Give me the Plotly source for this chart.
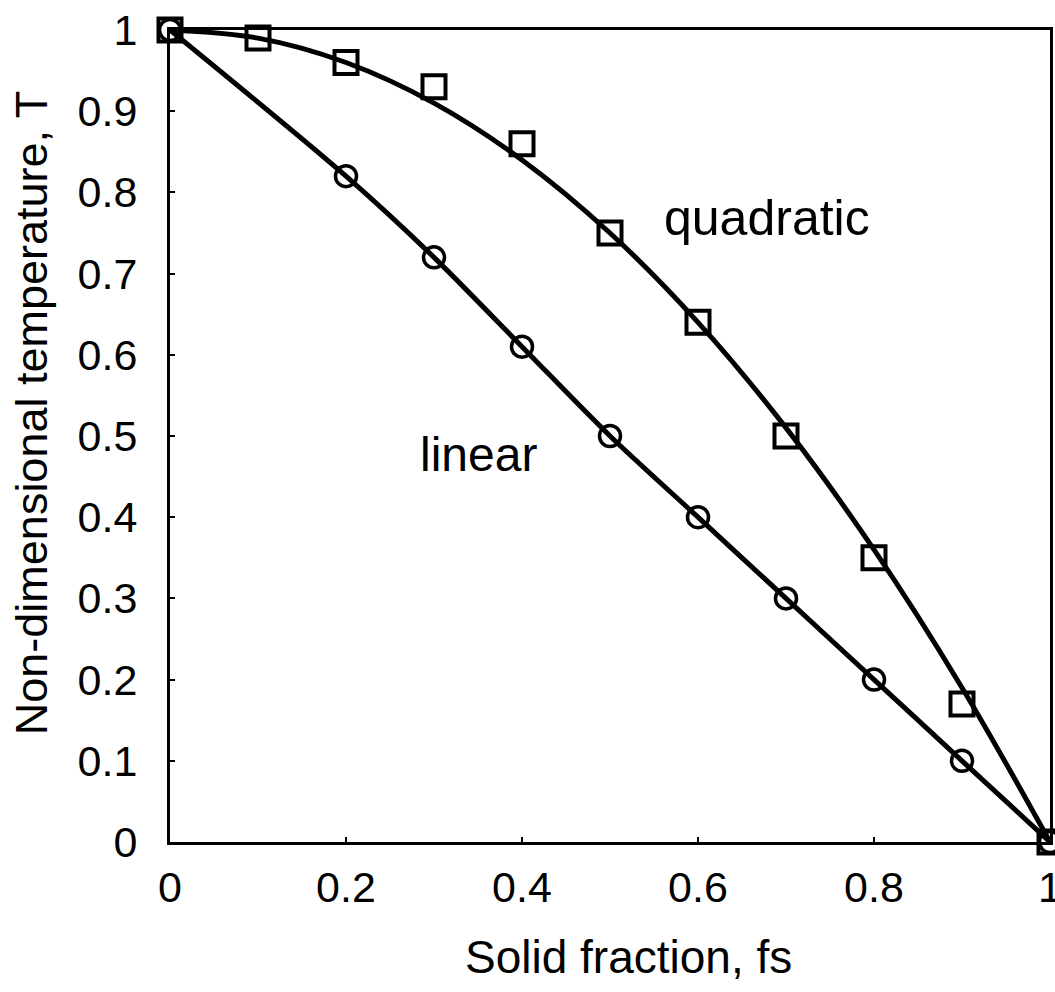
import plotly.graph_objects as go

# Data
# quadratic: marker values and the smooth curve drawn through them
fs_quad = [0, 0.1, 0.2, 0.3, 0.4, 0.5, 0.6, 0.7, 0.8, 0.9, 1.0]
T_quad = [1.0, 0.99, 0.96, 0.93, 0.86, 0.75, 0.64, 0.50, 0.35, 0.17, 0.0]
T_quad_curve = [1.0, 0.99, 0.96, 0.91, 0.84, 0.75, 0.64, 0.51, 0.36, 0.19, 0.0]

# linear
fs_lin = [0, 0.2, 0.3, 0.4, 0.5, 0.6, 0.7, 0.8, 0.9, 1.0]
T_lin = [1.0, 0.82, 0.72, 0.61, 0.50, 0.40, 0.30, 0.20, 0.10, 0.0]

x_ticks = [0, 0.2, 0.4, 0.6, 0.8, 1]
x_ticktext = ["0", "0.2", "0.4", "0.6", "0.8", "1"]
y_ticks = [0, 0.1, 0.2, 0.3, 0.4, 0.5, 0.6, 0.7, 0.8, 0.9, 1]
y_ticktext = ["0", "0.1", "0.2", "0.3", "0.4", "0.5", "0.6", "0.7", "0.8", "0.9", "1"]

FONT = "Liberation Sans, Arial, Helvetica, sans-serif"

fig = go.Figure()
# curves
fig.add_trace(go.Scatter(
    x=fs_quad, y=T_quad_curve, mode="lines", name="quadratic curve",
    line=dict(color="black", width=5, shape="spline", smoothing=1.0),
    cliponaxis=False, hoverinfo="skip",
))
fig.add_trace(go.Scatter(
    x=fs_lin, y=T_lin, mode="lines", name="linear curve",
    line=dict(color="black", width=5, shape="spline", smoothing=0.8),
    cliponaxis=False, hoverinfo="skip",
))
# markers
fig.add_trace(go.Scatter(
    x=fs_quad, y=T_quad, mode="markers", name="quadratic",
    marker=dict(symbol="square-open", size=23, color="black",
                line=dict(width=4, color="black")),
    cliponaxis=False,
))
fig.add_trace(go.Scatter(
    x=fs_lin, y=T_lin, mode="markers", name="linear",
    marker=dict(symbol="circle-open", size=21, color="black",
                line=dict(width=3.5, color="black")),
    cliponaxis=False,
))

fig.add_annotation(x=0.678, y=0.768, text="quadratic", showarrow=False,
                   xanchor="center", yanchor="middle",
                   font=dict(family=FONT, size=50, color="black"))
fig.add_annotation(x=0.351, y=0.477, text="linear", showarrow=False,
                   xanchor="center", yanchor="middle",
                   font=dict(family=FONT, size=48, color="black"))

# axis titles
fig.add_annotation(xref="paper", yref="paper", x=0.5215, y=-0.1416,
                   text="Solid fraction, fs", showarrow=False,
                   xanchor="center", yanchor="middle",
                   font=dict(family=FONT, size=46, color="black"))
fig.add_annotation(xref="paper", yref="paper", x=-0.158, y=0.528,
                   text="Non-dimensional temperature, T", showarrow=False,
                   textangle=-90, xanchor="center", yanchor="middle",
                   font=dict(family=FONT, size=45, color="black"))

fig.update_layout(
    width=1055, height=992,
    margin=dict(l=170, r=5, t=30, b=150, autoexpand=False),
    paper_bgcolor="white", plot_bgcolor="white",
    showlegend=False,
    font=dict(family=FONT, color="black"),
)
fig.update_xaxes(
    range=[0, 1], tickvals=x_ticks, ticktext=x_ticktext,
    showgrid=False, zeroline=False, automargin=False,
    showline=True, linecolor="black", linewidth=3, mirror=True,
    ticks="inside", ticklen=5, tickcolor="black", tickwidth=2,
    ticklabelstandoff=5, ticklabeloverflow="allow",
    tickfont=dict(family=FONT, size=43, color="black"),
)
fig.update_yaxes(
    range=[0, 1], tickvals=y_ticks, ticktext=y_ticktext,
    showgrid=False, zeroline=False, automargin=False,
    showline=True, linecolor="black", linewidth=3, mirror=True,
    ticks="inside", ticklen=5, tickcolor="black", tickwidth=2,
    ticklabelstandoff=21, ticklabeloverflow="allow",
    tickfont=dict(family=FONT, size=43, color="black"),
)

# remove the default page margin so the 1055x992 figure fills the window exactly
fig.write_html(
    "out.html",
    config={"displayModeBar": False},
    post_script="document.body.style.margin='0';document.body.style.overflow='hidden';",
)
